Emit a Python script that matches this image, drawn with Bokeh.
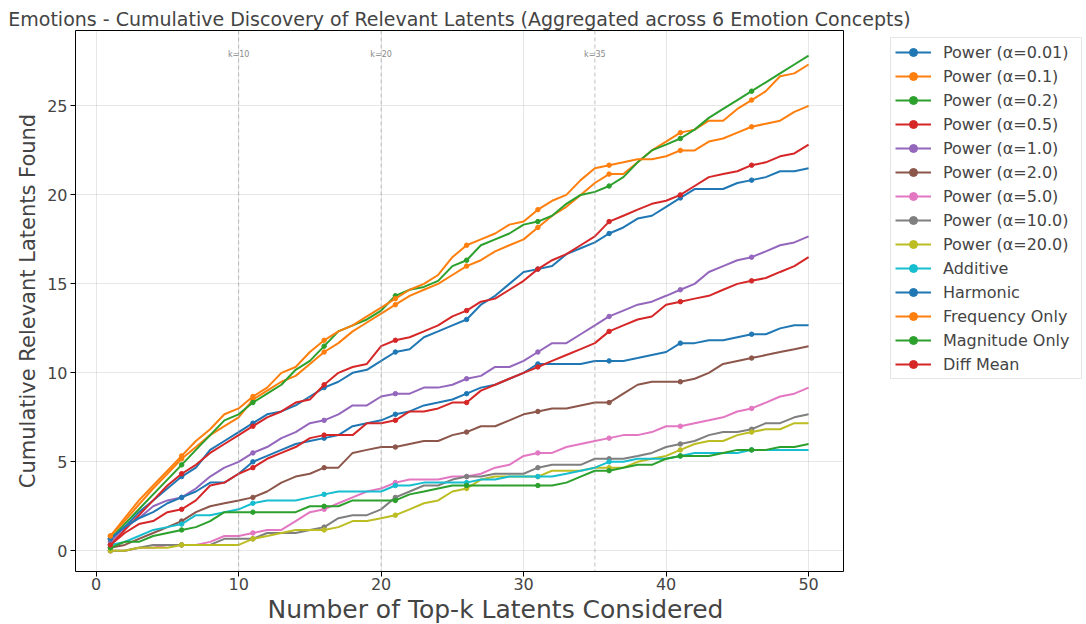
from bokeh.plotting import figure
from bokeh.models import Legend, LegendItem, Span, Label, Range1d, FixedTicker, Title
from bokeh.embed import file_html
from bokeh.resources import INLINE

k = list(range(1, 51))

power_001 = [0.67, 1.33, 2.17, 2.83, 3.5, 4.17, 4.67, 5.67, 6.17, 6.67,
             7.17, 7.67, 7.83, 8.17, 8.67, 9.17, 9.5, 10.0, 10.17, 10.67,
             11.17, 11.33, 12.0, 12.33, 12.67, 13.0, 13.83, 14.33, 15.0, 15.67,
             15.83, 16.0, 16.67, 17.0, 17.33, 17.83, 18.17, 18.67, 18.83, 19.33,
             19.83, 20.33, 20.33, 20.33, 20.67, 20.83, 21.0, 21.33, 21.33, 21.5]
power_01 = [0.83, 1.67, 2.6, 3.5, 4.33, 5.17, 5.83, 6.5, 7.0, 7.5,
            8.5, 9.0, 9.5, 9.83, 10.5, 11.17, 11.67, 12.33, 12.83, 13.33,
            13.83, 14.33, 14.67, 15.0, 15.5, 16.0, 16.33, 16.83, 17.17, 17.5,
            18.17, 18.83, 19.33, 20.0, 20.67, 21.17, 21.17, 21.83, 22.5, 23.0,
            23.5, 23.67, 24.17, 24.17, 24.83, 25.33, 25.83, 26.67, 26.83, 27.33]
power_02 = [0.67, 1.5, 2.33, 3.17, 4.0, 4.83, 5.67, 6.5, 7.33, 7.67,
            8.33, 8.83, 9.33, 10.17, 10.67, 11.5, 12.33, 12.67, 13.0, 13.5,
            14.33, 14.67, 14.83, 15.17, 16.0, 16.33, 17.17, 17.5, 17.83, 18.33,
            18.5, 18.83, 19.5, 20.0, 20.17, 20.5, 21.0, 21.83, 22.5, 22.83,
            23.17, 23.67, 24.33, 24.83, 25.33, 25.83, 26.33, 26.83, 27.33, 27.83]
power_05 = [0.33, 1.17, 2.0, 2.83, 3.67, 4.33, 4.83, 5.5, 6.0, 6.5,
            7.0, 7.5, 7.83, 8.33, 8.5, 9.33, 10.0, 10.33, 10.5, 11.5,
            11.83, 12.0, 12.33, 12.67, 13.17, 13.5, 14.0, 14.17, 14.67, 15.17,
            15.83, 16.33, 16.67, 17.17, 17.67, 18.5, 18.83, 19.17, 19.5, 19.67,
            20.0, 20.5, 21.0, 21.17, 21.33, 21.67, 21.83, 22.17, 22.33, 22.83]
power_1 = [0.5, 1.33, 1.83, 2.5, 2.83, 3.0, 3.5, 4.17, 4.67, 5.0,
           5.5, 5.83, 6.33, 6.67, 7.17, 7.33, 7.67, 8.17, 8.17, 8.67,
           8.83, 8.83, 9.17, 9.17, 9.33, 9.67, 9.83, 10.33, 10.33, 10.67,
           11.17, 11.67, 11.67, 12.17, 12.67, 13.17, 13.5, 13.83, 14.0, 14.33,
           14.67, 15.0, 15.67, 16.0, 16.33, 16.5, 16.83, 17.17, 17.33, 17.67]
power_2 = [0.17, 0.33, 0.67, 1.0, 1.33, 1.67, 2.17, 2.5, 2.67, 2.83,
           3.0, 3.33, 3.83, 4.17, 4.33, 4.67, 4.67, 5.5, 5.67, 5.83,
           5.83, 6.0, 6.17, 6.17, 6.5, 6.67, 7.0, 7.0, 7.33, 7.67,
           7.83, 8.0, 8.0, 8.17, 8.33, 8.33, 8.83, 9.33, 9.5, 9.5,
           9.5, 9.67, 10.0, 10.5, 10.67, 10.83, 11.0, 11.17, 11.33, 11.5]
power_5 = [0.0, 0.0, 0.17, 0.17, 0.33, 0.33, 0.33, 0.5, 0.83, 0.83,
           1.0, 1.17, 1.17, 1.67, 2.17, 2.33, 2.67, 3.0, 3.33, 3.5,
           3.83, 4.0, 4.0, 4.0, 4.17, 4.17, 4.33, 4.67, 4.83, 5.33,
           5.5, 5.5, 5.83, 6.0, 6.17, 6.33, 6.5, 6.5, 6.67, 7.0,
           7.0, 7.17, 7.33, 7.5, 7.83, 8.0, 8.33, 8.67, 8.83, 9.17]
power_10 = [0.0, 0.0, 0.17, 0.33, 0.33, 0.33, 0.33, 0.33, 0.67, 0.67,
            0.67, 1.0, 1.0, 1.0, 1.17, 1.33, 1.83, 2.0, 2.0, 2.33,
            3.0, 3.33, 3.67, 3.67, 4.0, 4.17, 4.17, 4.33, 4.33, 4.33,
            4.67, 4.83, 4.83, 4.83, 5.17, 5.17, 5.17, 5.33, 5.5, 5.83,
            6.0, 6.17, 6.5, 6.67, 6.67, 6.83, 7.17, 7.17, 7.5, 7.67]
power_20 = [0.0, 0.0, 0.17, 0.17, 0.17, 0.33, 0.33, 0.33, 0.33, 0.33,
            0.67, 0.83, 1.0, 1.17, 1.17, 1.17, 1.33, 1.67, 1.67, 1.83,
            2.0, 2.33, 2.67, 2.83, 3.33, 3.5, 4.0, 4.17, 4.17, 4.17,
            4.17, 4.5, 4.5, 4.5, 4.67, 4.67, 4.67, 5.0, 5.17, 5.33,
            5.67, 6.0, 6.17, 6.17, 6.5, 6.67, 6.83, 6.83, 7.17, 7.17]
additive = [0.33, 0.5, 0.83, 1.17, 1.33, 1.5, 2.0, 2.0, 2.17, 2.33,
            2.67, 2.83, 2.83, 2.83, 3.0, 3.17, 3.33, 3.33, 3.33, 3.33,
            3.67, 3.67, 3.83, 3.83, 3.83, 3.83, 4.0, 4.0, 4.17, 4.17,
            4.17, 4.17, 4.33, 4.5, 4.67, 5.0, 5.0, 5.17, 5.17, 5.17,
            5.33, 5.5, 5.5, 5.5, 5.5, 5.67, 5.67, 5.67, 5.67, 5.67]
harmonic = [0.67, 1.33, 1.83, 2.17, 2.67, 3.0, 3.33, 3.83, 3.83, 4.33,
            5.0, 5.33, 5.67, 6.0, 6.17, 6.33, 6.5, 7.0, 7.17, 7.33,
            7.67, 7.83, 8.17, 8.33, 8.5, 8.83, 9.17, 9.33, 9.67, 10.0,
            10.5, 10.5, 10.5, 10.5, 10.67, 10.67, 10.67, 10.83, 11.0, 11.17,
            11.67, 11.67, 11.83, 11.83, 12.0, 12.17, 12.17, 12.5, 12.67, 12.67]
frequency_only = [0.83, 1.83, 2.83, 3.67, 4.5, 5.33, 6.17, 6.83, 7.67, 8.0,
                  8.67, 9.17, 10.0, 10.33, 11.17, 11.83, 12.33, 12.67, 13.17, 13.67,
                  14.17, 14.67, 15.0, 15.5, 16.5, 17.17, 17.5, 17.83, 18.33, 18.5,
                  19.17, 19.67, 20.0, 20.83, 21.5, 21.67, 21.83, 22.0, 22.0, 22.17,
                  22.5, 22.5, 23.0, 23.17, 23.5, 23.83, 24.0, 24.17, 24.67, 25.0]
magnitude_only = [0.17, 0.5, 0.5, 0.83, 1.0, 1.17, 1.33, 1.67, 2.17, 2.17,
                  2.17, 2.17, 2.17, 2.17, 2.5, 2.5, 2.5, 2.83, 2.83, 2.83,
                  2.83, 3.17, 3.33, 3.5, 3.67, 3.67, 3.67, 3.67, 3.67, 3.67,
                  3.67, 3.67, 3.83, 4.17, 4.5, 4.5, 4.67, 4.83, 4.83, 5.17,
                  5.33, 5.33, 5.33, 5.5, 5.67, 5.67, 5.67, 5.83, 5.83, 6.0]
diff_mean = [0.33, 1.0, 1.5, 1.67, 2.17, 2.33, 2.83, 3.67, 3.83, 4.33,
             4.67, 5.17, 5.5, 5.83, 6.33, 6.5, 6.5, 6.5, 7.17, 7.17,
             7.33, 7.83, 7.83, 8.0, 8.33, 8.33, 9.0, 9.33, 9.67, 10.0,
             10.33, 10.67, 11.0, 11.33, 11.67, 12.33, 12.67, 13.0, 13.17, 13.83,
             14.0, 14.17, 14.33, 14.67, 15.0, 15.17, 15.33, 15.67, 16.0, 16.5]

labels = ["Power (\u03b1=0.01)", "Power (\u03b1=0.1)", "Power (\u03b1=0.2)", "Power (\u03b1=0.5)",
          "Power (\u03b1=1.0)", "Power (\u03b1=2.0)", "Power (\u03b1=5.0)", "Power (\u03b1=10.0)",
          "Power (\u03b1=20.0)", "Additive", "Harmonic", "Frequency Only",
          "Magnitude Only", "Diff Mean"]
series = [power_001, power_01, power_02, power_05, power_1, power_2, power_5,
          power_10, power_20, additive, harmonic, frequency_only, magnitude_only, diff_mean]
colors = ["#1f77b4", "#ff7f0e", "#2ca02c", "#d62728", "#9467bd", "#8c564b", "#e377c2",
          "#7f7f7f", "#bcbd22", "#17becf", "#1f77b4", "#ff7f0e", "#2ca02c", "#d62728"]
k_marks = [10, 20, 35]
x_label = "Number of Top-k Latents Considered"
y_label = "Cumulative Relevant Latents Found"

FONT = "DejaVu Sans"

p = figure(frame_width=768, frame_height=541, output_backend="svg", toolbar_location=None,
           x_range=Range1d(-1.45, 52.45), y_range=Range1d(-1.165, 29.24),
           min_border_left=75, min_border_right=238, min_border_top=30, min_border_bottom=40)

p.title.text = "Emotions - Cumulative Discovery of Relevant Latents (Aggregated across 6 Emotion Concepts)"
p.title.text_font = FONT
p.title.text_font_size = "19px"
p.title.text_font_style = "normal"
p.title.align = "center"
p.title.offset = 0
p.title.standoff = 2

p.outline_line_color = "black"
p.outline_line_width = 1
p.background_fill_color = "white"
p.border_fill_color = "white"

for ax in (p.xaxis, p.yaxis):
    ax.axis_label_text_font = FONT
    ax.axis_label_text_font_style = "normal"
    ax.major_label_text_font = FONT
    ax.major_label_text_font_size = "16px"
    ax.minor_tick_line_color = None
    ax.major_tick_in = 0
    ax.major_tick_out = 5
    ax.axis_line_color = None
    ax.major_tick_line_color = "black"
    ax.major_label_standoff = 3

p.xaxis.major_label_standoff = 1
p.yaxis.axis_label = y_label
p.yaxis.axis_label_text_font_size = "21px"
p.yaxis.axis_label_standoff = 4
p.xaxis.ticker = FixedTicker(ticks=[0, 10, 20, 30, 40, 50])
p.yaxis.ticker = FixedTicker(ticks=[0, 5, 10, 15, 20, 25])

xt = Title(text=x_label, align="left", offset=192, text_font=FONT, text_font_size="25px",
           text_font_style="normal", standoff=0)
p.add_layout(xt, "below")

p.grid.grid_line_color = "#b0b0b0"
p.grid.grid_line_alpha = 0.3
p.grid.grid_line_width = 1

for km in k_marks:
    p.add_layout(Span(location=km, dimension="height", line_color="#999999",
                      line_alpha=0.6, line_dash="4 3", line_width=1))
    p.add_layout(Label(x=km, y=27.9, text=f"k={km}", text_font=FONT, text_font_size="8px",
                       text_color="#888888", text_align="center", text_baseline="middle"))

items = []
for lab, ys, c in zip(labels, series, colors):
    r1 = p.line(k, ys, line_color=c, line_width=2)
    r2 = p.scatter(k[::5], ys[::5], size=4.5, fill_color=c, line_color=c)
    items.append(LegendItem(label=lab, renderers=[r1, r2]))

legend = Legend(items=items, location=(47, 192))
legend.label_text_font = FONT
legend.label_text_font_size = "16px"
legend.glyph_width = 36
legend.glyph_height = 20
legend.label_height = 20
legend.label_width = 134
legend.spacing = 4
legend.padding = 4
legend.margin = 0
legend.label_standoff = 12
legend.border_line_color = "#cccccc"
legend.border_line_width = 1
legend.background_fill_alpha = 1.0
p.add_layout(legend, "right")

open("out.html", "w").write(file_html(p, INLINE))
